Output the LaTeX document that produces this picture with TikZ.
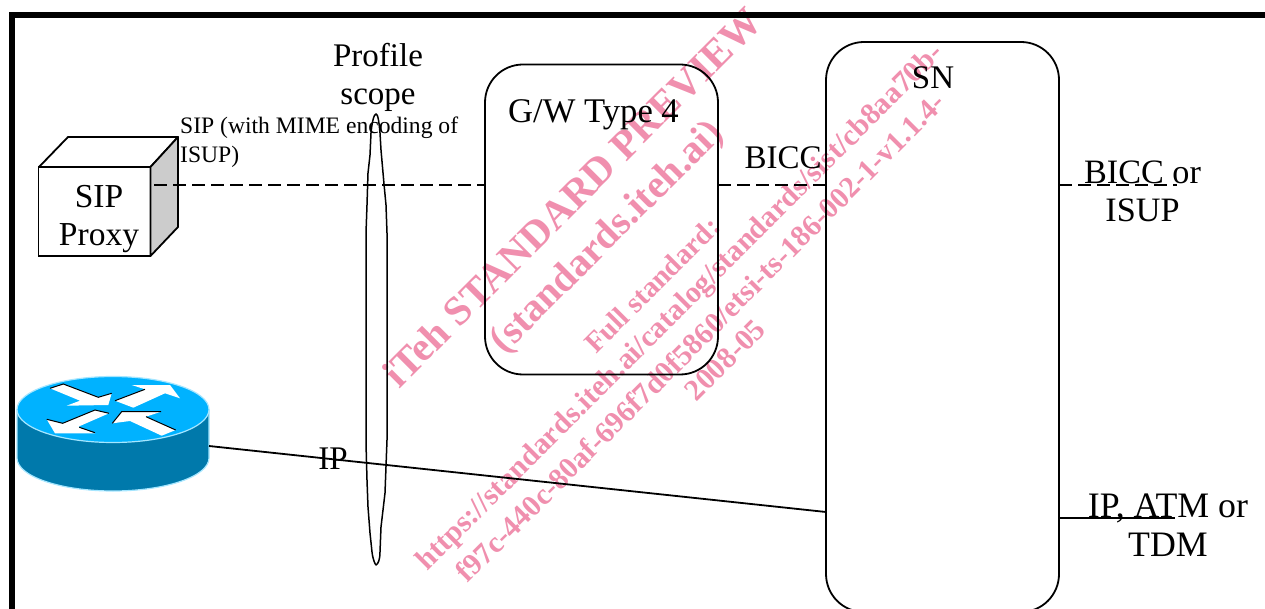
\documentclass[tikz,border=0pt]{standalone}
\usepackage{fontspec}
\setmainfont{Liberation Serif}
\definecolor{wm}{HTML}{F08FAE}
\definecolor{rtop}{HTML}{00B2FF}
\definecolor{rside}{HTML}{0079AB}
\definecolor{redge}{HTML}{A5E6FF}
\definecolor{cubeside}{HTML}{CCCCCC}
\tikzset{
  ln/.style={line width=1.8pt,black},
  dashln/.style={line width=1.8pt,black,dash pattern=on 13pt off 6pt},
  box/.style={draw=black,line width=1.8pt,rounded corners=38pt,minimum width=#1,inner sep=0pt},
  big/.style={inner sep=0pt,font=\fontsize{33}{38}\selectfont,align=center},
  wide/.style={inner sep=0pt,font=\fontsize{#1}{38.5}\selectfont,align=center},
  small/.style={inner sep=0pt,font=\fontsize{23.6}{29}\selectfont,align=left},
  wa/.style={inner sep=0pt,rotate=45,text=wm,font=\bfseries\fontsize{#1}{#1}\selectfont},
  arrowwhite/.style={fill=white,draw=none},
  arrowedge/.style={draw=black,line width=1pt}
}
\begin{document}
\begin{tikzpicture}[x=1pt,y=-1pt]
\useasboundingbox (0,0) rectangle (1265,609);
\clip (0,0) rectangle (1265,609);
\fill[white] (0,0) rectangle (1265,609);
% frame
\fill[black] (8.5,12.5) rectangle (1265,18);
\fill[black] (9,12.5) rectangle (15,609);
% coordinates for free ends and attachment points
\coordinate (cubeport) at (154,185);
\coordinate (gwL) at (485,185);
\coordinate (gwR) at (718,185);
\coordinate (snL) at (826,185);
\coordinate (snR) at (1059,185);
\coordinate (freeA) at (1177,185);
\coordinate (routerport) at (209,446);
\coordinate (snIP) at (826,512);
\coordinate (snR2) at (1059,518);
\coordinate (freeB) at (1175,518);
% SIP proxy cube
\node[draw=black,line width=1.8pt,fill=white,minimum width=112pt,minimum height=89pt,inner sep=0pt] (cube) at (94.5,211.5) {};
\draw[ln,fill=white,line join=round] (39,167) -- (68,137) -- (178,137) -- (150.5,167) -- cycle;
\draw[ln,fill=cubeside,line join=round] (150.5,167) -- (178,137) -- (178,227) -- (150.5,256) -- cycle;
% dashed connectors
\draw[dashln] (cubeport) -- (gwL);
\draw[dashln] (gwR) -- (snL);
\draw[dashln] (snR) -- (freeA);
% profile scope lens
\draw[line width=1.5pt,line join=round] (376,114) .. controls (374,114) and (372,122) .. (371,133)
  -- (370,155) -- (368,173) -- (367,205) -- (366,233) -- (366,443) -- (367,480) -- (368,507) -- (370,533) -- (372,552)
  .. controls (373,560) and (375,564) .. (376,565) .. controls (378,564) and (380,560) .. (380,552)
  -- (381,527) -- (385,493) -- (387,440) -- (387,233) -- (386,205) -- (384,184) -- (381,150) -- (380,133)
  .. controls (379,122) and (378,114) .. (376,114) -- cycle;
% gateway and SN
\node[box=233pt,minimum height=310pt] (gw) at (601.5,219.5) {};
\node[box=233pt,minimum height=570pt] (sn) at (942.5,327) {};
% router
\draw[draw=redge,line width=1.2pt,fill=rside] (17,410) -- (17,458) arc[start angle=180,end angle=0,x radius=96,y radius=33] -- (209,410) -- cycle;
\draw[draw=redge,line width=1.2pt,fill=rtop] (113,409.5) ellipse[x radius=96,y radius=33];
\node[inner sep=0pt,minimum size=0pt] (router) at (113,433) {};
% arrows
\fill[arrowwhite] (50,388.3) -- (63.3,384) -- (98.3,397.3) -- (111.7,393.3) -- (108.3,405) -- (66.7,405.7) -- (80,400.7) -- cycle;
\draw[arrowedge] (50,388.3) -- (63.3,384) -- (98.3,397.3) -- (111.7,393.3);
\fill[arrowwhite] (115,400.7) -- (145,389.3) -- (131.7,385) -- (170,385) -- (180,398.3) -- (165,393.3) -- (133.3,407.7) -- cycle;
\draw[arrowedge] (115,400.7) -- (145,389.3);
\fill[arrowwhite] (46.7,419.3) -- (62.7,423.3) -- (95,410) -- (109,413.3) -- (78.3,426.7) -- (95,433.3) -- (55,433.3) -- cycle;
\draw[arrowedge] (46.7,419.3) -- (62.7,423.3) -- (95,410) -- (109,413.3);
\draw[arrowedge] (79.3,427.3) -- (95,432.7);
\fill[arrowwhite] (112.3,423.3) -- (121.7,411.7) -- (161,411.7) -- (146,416.7) -- (175.7,430) -- (161.7,435.7) -- (130,421) -- cycle;
\draw[arrowedge] (112.3,423.3) -- (121.7,411.7) -- (161,411.7);
\draw[arrowedge] (146,416.7) -- (175.7,430);
% IP connectors
\draw[ln] (routerport) -- (snIP);
\draw[ln] (snR2) -- (freeB);
% labels
\node[wide=33.5,anchor=base] (lproxy) at (99,246) {SIP\\Proxy};
\node[big,anchor=base] (lscope) at (378,105) {Profile\\scope};
\node[small,anchor=base west] (lsip) at (180,163) {SIP (with MIME encoding of\\ISUP)};
\node[wide=34.6,anchor=base] (lgw) at (593.5,123) {G/W Type 4};
\node[big,anchor=base] (lbicc) at (783,169) {BICC};
\node[big,anchor=base] (lsn) at (933,89) {SN};
\node[wide=34.2,anchor=base] (lbr) at (1142.5,222) {BICC or\\ISUP};
\node[big,anchor=base] (lip) at (333,469) {IP};
\node[wide=35.8,anchor=base] (lir) at (1168,556) {IP, ATM or\\TDM};
% watermark
\begin{scope}[blend mode=multiply]
\node[wa=41] (w1) at (572,197) {iTeh STANDARD PREVIEW};
\node[wa=40] (w2) at (608,238) {(standards.iteh.ai)};
\node[wa=29] (w3) at (652,285) {Full standard:};
\node[wa=30] (w4) at (681,308) {https://standards.iteh.ai/catalog/standards/sist/cb8aa70b-};
\node[wa=29.8] (w5) at (700,337) {f97c-440c-80af-696f7d0f5860/etsi-ts-186-002-1-v1.1.4-};
\node[wa=30] (w6) at (725,360) {2008-05};
\end{scope}
\end{tikzpicture}
\end{document}
